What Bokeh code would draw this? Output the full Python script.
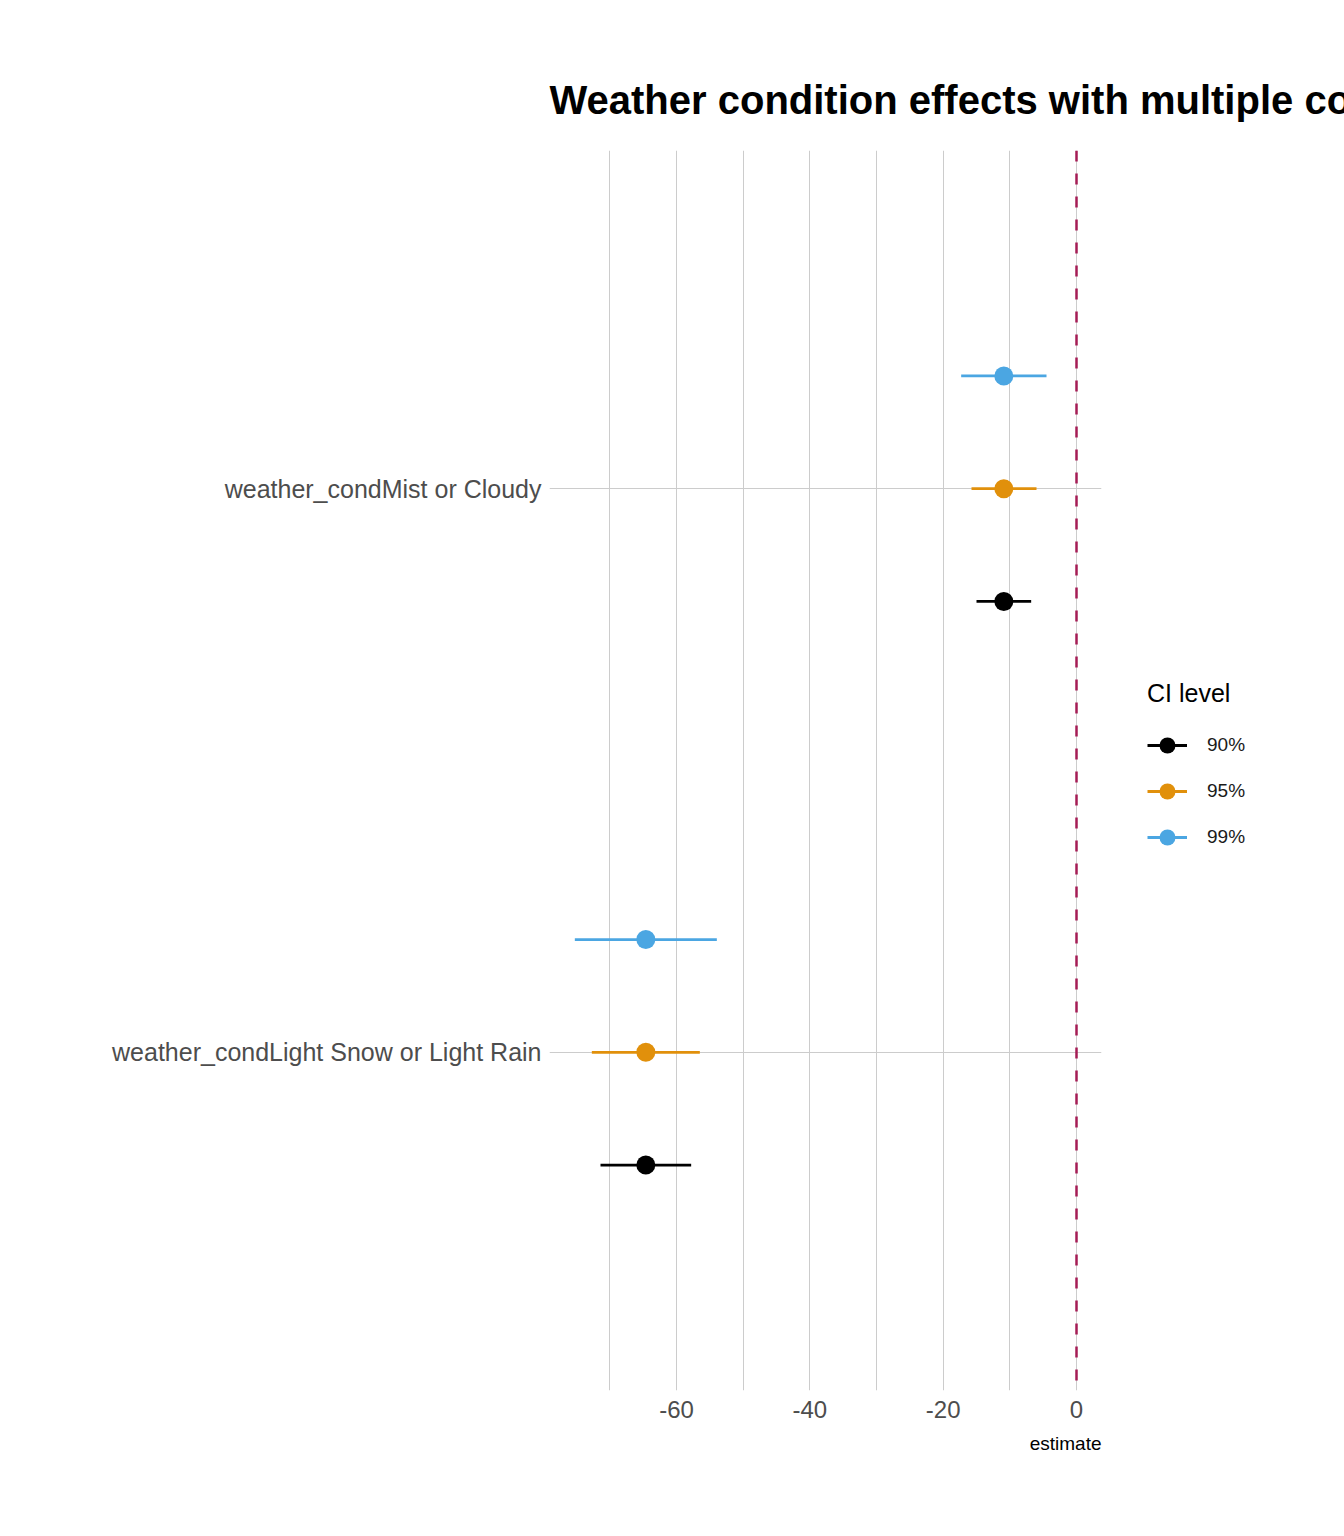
from bokeh.plotting import figure
from bokeh.models import (ColumnDataSource, Range1d, FixedTicker, Span, Legend,
                          LegendItem, Title)
from bokeh.transform import dodge
from bokeh.embed import file_html
from bokeh.resources import INLINE

# ---- data ----
terms = ["weather_condLight Snow or Light Rain", "weather_condMist or Cloudy"]
estimate = [-64.6, -10.9]
levels = ["90%", "95%", "99%"]
lo_90 = [-71.4, -15.0]
hi_90 = [-57.8, -6.8]
lo_95 = [-72.7, -15.75]
hi_95 = [-56.5, -6.0]
lo_99 = [-75.25, -17.3]
hi_99 = [-53.95, -4.5]
x_ticks = [-60, -40, -20, 0]
x_tick_labels = ["-60", "-40", "-20", "0"]
x_minor = [-70, -50, -30, -10]

colors = {"90%": "#000000", "95%": "#E1900B", "99%": "#4BA6E2"}
offsets = {"90%": -0.2, "95%": 0.0, "99%": 0.2}
los = {"90%": lo_90, "95%": lo_95, "99%": lo_99}
his = {"90%": hi_90, "95%": hi_95, "99%": hi_99}

FONT = "Liberation Sans"

p = figure(frame_width=552, frame_height=1240,
           x_range=Range1d(-79.05, 3.75), y_range=Range1d(0.4, 2.6),
           output_backend="svg", toolbar_location=None,
           min_border_left=549, min_border_right=0,
           min_border_top=150, min_border_bottom=138)
p.outline_line_color = None
p.background_fill_color = "white"
p.border_fill_color = "white"

p.title.text = "Weather condition effects with multiple confidence levels"
p.title.text_font = FONT
p.title.text_font_size = "40px"
p.title.text_font_style = "bold"
p.title.text_color = "#000000"
p.title.align = "left"
p.title.offset = 0
p.title.standoff = 57

# axes
p.xaxis.ticker = FixedTicker(ticks=x_ticks, minor_ticks=x_minor)
p.xaxis.major_label_overrides = dict(zip(x_ticks, x_tick_labels))
p.yaxis.ticker = FixedTicker(ticks=[1, 2])
p.yaxis.major_label_overrides = {i + 1: t for i, t in enumerate(terms)}
for ax in (p.xaxis, p.yaxis):
    ax.axis_line_color = None
    ax.major_tick_line_color = None
    ax.minor_tick_line_color = None
    ax.major_tick_out = 0
    ax.minor_tick_out = 0
    ax.major_label_text_font = FONT
    ax.major_label_text_color = "#4D4D4D"
    ax.major_label_standoff = 8
p.xaxis.major_label_standoff = 10
p.xaxis.major_label_text_font_size = "24px"
p.yaxis.major_label_text_font_size = "25px"

p.xgrid.grid_line_color = "#CCCCCC"
p.xgrid.grid_line_width = 1
p.xgrid.minor_grid_line_color = "#CCCCCC"
p.xgrid.minor_grid_line_width = 1
p.ygrid.grid_line_color = "#CCCCCC"
p.ygrid.grid_line_width = 1

items = []
for lev in levels:
    src = ColumnDataSource(dict(
        y=[i + 1 for i in range(len(terms))],
        est=estimate, lo=los[lev], hi=his[lev]))
    yd = dodge("y", offsets[lev], range=p.y_range)
    seg = p.segment(x0="lo", x1="hi", y0=yd, y1=yd, source=src,
                    line_color=colors[lev], line_width=2.8)
    pt = p.scatter(x="est", y=yd, source=src, size=19, marker="circle",
                   fill_color=colors[lev], line_color=None)
    items.append(LegendItem(label=lev, renderers=[seg, pt]))

p.add_layout(Span(location=0, dimension="height", line_color="#A51C55",
                  line_width=2.5, line_dash="11 12"))

legend = Legend(items=items, location=(46, 530))
legend.title = "CI level"
legend.title_text_font = FONT
legend.title_text_font_size = "25px"
legend.title_text_font_style = "normal"
legend.title_text_color = "#000000"
legend.title_standoff = 14
legend.label_text_font = FONT
legend.label_text_font_size = "19px"
legend.label_text_color = "#1A1A1A"
legend.glyph_width = 40
legend.glyph_height = 46
legend.label_standoff = 20
legend.spacing = 0
legend.margin = 0
legend.padding = 10
legend.border_line_color = None
legend.background_fill_alpha = 0
p.add_layout(legend, "right")

p.add_layout(Title(text="estimate", align="right", text_font=FONT,
                   text_font_size="19px", text_font_style="normal",
                   text_color="#000000", standoff=20), "below")

open("out.html", "w").write(file_html(p, INLINE))
